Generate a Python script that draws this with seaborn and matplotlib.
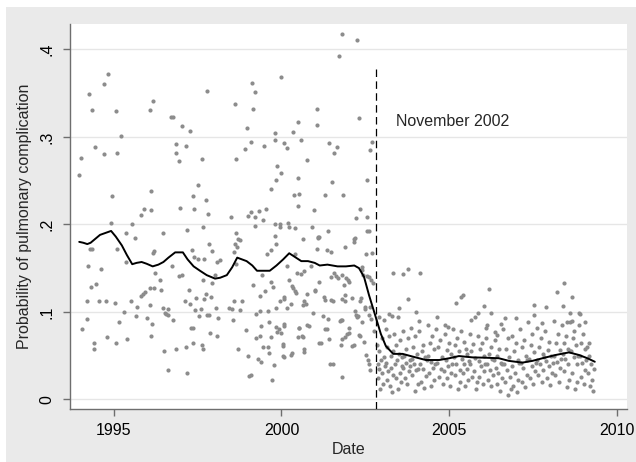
import seaborn as sns
import matplotlib.pyplot as plt
import numpy as np, pandas as pd
from matplotlib.patches import Rectangle

# monthly probability before the November 2002 change
pre_year = [1993.96, 1994.03, 1994.27, 1994.34, 1994.44, 1994.71, 1994.71, 1994.82, 1994.95, 1995.06,
            1995.10, 1995.22, 1994.92, 1995.36, 1995.54, 1995.63, 1995.81, 1995.90, 1996.09, 1996.17,
            1996.11, 1996.11, 1996.46, 1996.71, 1996.76, 1996.85, 1996.85, 1996.94, 1997.03, 1996.98,
            1997.16, 1997.27, 1997.19, 1997.36, 1997.39, 1997.50, 1997.64, 1997.66, 1997.75, 1997.79,
            1997.81, 1998.50, 1998.60, 1998.64, 1998.64, 1998.70, 1998.91, 1998.97, 1998.99, 1999.08,
            1999.08, 1999.13, 1999.15, 1999.20, 1999.21, 1999.22, 1999.34, 1999.45, 1999.49, 1999.54,
            1999.68, 1999.81, 1999.82, 1999.83, 1999.86, 1999.82, 1999.82, 2000.00, 2000.00, 1999.95,
            1999.97, 2000.07, 2000.16, 2000.19, 2000.21, 2000.34, 2000.41, 2000.38, 2000.50, 2000.49,
            2000.51, 2000.48, 2000.59, 2000.65, 2000.77, 2000.90, 2000.98, 2001.07, 2001.07, 2001.08,
            2001.81, 2002.26, 2001.70, 2002.30, 2001.41, 2001.66, 2001.56, 2002.69, 2002.64, 2001.50,
            2002.56, 2001.30, 2001.82, 2002.35, 2002.22, 2002.55, 2001.40, 2002.56, 2002.60, 2002.16,
            1994.06, 1994.20, 1994.20, 1994.23, 1994.29, 1994.36, 1994.32, 1994.42, 1994.42, 1994.48,
            1994.55, 1994.63, 1994.76, 1994.81, 1995.05, 1995.07, 1995.09, 1995.16, 1995.31, 1995.36,
            1995.39, 1995.52, 1995.66, 1995.70, 1995.82, 1995.88, 1995.94, 1995.99, 1996.08, 1996.20,
            1996.07, 1996.12, 1996.14, 1996.17, 1996.21, 1996.24, 1996.38, 1996.41, 1996.47, 1996.52,
            1996.56, 1996.50, 1996.63, 1996.61, 1996.61, 1996.73, 1996.76, 1996.86, 1996.94, 1997.04,
            1997.13, 1997.15, 1997.18, 1997.23, 1997.28, 1997.30, 1997.35, 1997.37, 1997.43, 1997.46,
            1997.50, 1997.54, 1997.60, 1997.64, 1997.67, 1997.67, 1997.70, 1997.74, 1997.77, 1997.83,
            1997.84, 1997.86, 1997.90, 1997.93, 1998.02, 1998.04, 1998.07, 1998.09, 1998.10, 1998.17,
            1998.44, 1998.53, 1998.55, 1998.57, 1998.60, 1998.65, 1998.67, 1998.69, 1998.75, 1998.76,
            1998.82, 1998.94, 1998.99, 1999.02, 1999.10, 1999.16, 1999.24, 1999.25, 1999.35, 1999.29,
            1999.39, 1999.35, 1999.36, 1999.39, 1999.42, 1999.46, 1999.50, 1999.60, 1999.59, 1999.62,
            1999.63, 1999.68, 1999.69, 1999.76, 1999.79, 1999.85, 1999.85, 1999.92, 1999.88, 1999.71,
            1999.95, 2000.00, 2000.04, 2000.07, 2000.07, 2000.06, 2000.15, 2000.17, 2000.21, 2000.27,
            2000.31, 2000.39, 2000.41, 2000.49, 2000.64, 2000.52, 2000.65, 2000.68, 2000.66, 2000.66,
            2000.68, 2000.77, 2000.81, 2000.95, 2001.01, 2001.10, 2001.13, 2001.28, 2001.47, 2001.55,
            2001.23, 2001.39, 2001.36, 2001.42, 2001.17, 2001.45, 2001.55, 2001.62, 2001.68, 2001.57,
            2001.80, 2001.73, 2001.80, 2001.90, 2001.90, 2001.98, 2002.02, 2001.95, 2002.10, 2002.15,
            2002.19, 2002.10, 2002.21, 2002.27, 2002.33, 2002.37, 2002.39, 2002.41, 2002.51, 2002.49,
            2002.57, 2002.63, 2002.56, 2002.62, 2002.66, 2002.62, 2002.72, 2002.75, 2001.88, 2001.35,
            2001.49, 2002.69, 2001.13, 2001.05, 2000.47, 2000.58, 2000.87, 2001.48, 2001.81, 2001.93,
            2002.44, 2001.87, 2000.33, 2000.43, 2001.00, 2001.30, 2000.08, 2000.27, 2000.72, 2001.79,
            2002.33, 2002.48, 2002.63, 2002.18, 2002.66, 2001.76, 2001.81, 2002.26, 2002.41, 2000.08,
            2000.53, 2000.76, 2001.30, 2002.00, 2000.62, 2001.90, 2002.00, 2002.32, 2000.05, 2001.13,
            2001.77, 2002.16, 2002.47, 2000.05, 2000.31, 2002.53, 2002.60, 1997.92, 1997.34, 1997.39,
            1997.70, 1998.57, 1999.57, 1999.68, 1999.83]
pre_prob = [0.256, 0.276, 0.349, 0.331, 0.288, 0.360, 0.280, 0.372, 0.232, 0.330,
            0.281, 0.301, 0.201, 0.190, 0.200, 0.184, 0.211, 0.218, 0.331, 0.341,
            0.238, 0.216, 0.190, 0.323, 0.323, 0.292, 0.281, 0.272, 0.312, 0.219,
            0.289, 0.307, 0.193, 0.232, 0.217, 0.245, 0.275, 0.197, 0.228, 0.352,
            0.212, 0.208, 0.338, 0.275, 0.190, 0.183, 0.286, 0.310, 0.209, 0.214,
            0.294, 0.361, 0.332, 0.351, 0.208, 0.198, 0.215, 0.205, 0.289, 0.217,
            0.240, 0.304, 0.297, 0.251, 0.267, 0.200, 0.187, 0.368, 0.259, 0.200,
            0.197, 0.293, 0.287, 0.202, 0.197, 0.305, 0.196, 0.233, 0.317, 0.253,
            0.235, 0.221, 0.296, 0.183, 0.274, 0.197, 0.216, 0.332, 0.313, 0.184,
            0.418, 0.411, 0.392, 0.322, 0.293, 0.288, 0.281, 0.294, 0.285, 0.248,
            0.251, 0.233, 0.233, 0.217, 0.207, 0.208, 0.192, 0.192, 0.192, 0.183,
            0.080, 0.092, 0.113, 0.153, 0.172, 0.172, 0.128, 0.064, 0.058, 0.132,
            0.112, 0.149, 0.113, 0.071, 0.110, 0.065, 0.172, 0.089, 0.100, 0.157,
            0.069, 0.112, 0.095, 0.106, 0.118, 0.121, 0.123, 0.093, 0.127, 0.127,
            0.108, 0.072, 0.086, 0.167, 0.170, 0.145, 0.137, 0.125, 0.104, 0.099,
            0.098, 0.055, 0.096, 0.034, 0.103, 0.153, 0.091, 0.058, 0.141, 0.142,
            0.112, 0.060, 0.030, 0.125, 0.109, 0.082, 0.082, 0.064, 0.102, 0.116,
            0.161, 0.095, 0.103, 0.062, 0.058, 0.136, 0.115, 0.120, 0.096, 0.096,
            0.178, 0.076, 0.117, 0.133, 0.142, 0.104, 0.157, 0.073, 0.093, 0.159,
            0.105, 0.103, 0.091, 0.112, 0.178, 0.155, 0.174, 0.058, 0.102, 0.182,
            0.113, 0.079, 0.050, 0.027, 0.028, 0.131, 0.070, 0.098, 0.101, 0.046,
            0.084, 0.072, 0.118, 0.043, 0.142, 0.060, 0.124, 0.060, 0.101, 0.088,
            0.053, 0.071, 0.134, 0.128, 0.039, 0.104, 0.083, 0.081, 0.077, 0.022,
            0.112, 0.076, 0.061, 0.049, 0.086, 0.115, 0.104, 0.152, 0.136, 0.051,
            0.130, 0.124, 0.166, 0.071, 0.071, 0.082, 0.108, 0.112, 0.058, 0.054,
            0.147, 0.120, 0.084, 0.099, 0.125, 0.185, 0.134, 0.117, 0.114, 0.113,
            0.095, 0.092, 0.080, 0.069, 0.064, 0.040, 0.040, 0.141, 0.139, 0.145,
            0.026, 0.090, 0.069, 0.119, 0.113, 0.136, 0.134, 0.075, 0.061, 0.180,
            0.184, 0.116, 0.097, 0.095, 0.073, 0.116, 0.148, 0.151, 0.166, 0.106,
            0.045, 0.034, 0.141, 0.140, 0.136, 0.097, 0.133, 0.078, 0.174, 0.171,
            0.168, 0.167, 0.186, 0.172, 0.145, 0.143, 0.153, 0.140, 0.142, 0.139,
            0.142, 0.131, 0.127, 0.122, 0.124, 0.114, 0.117, 0.109, 0.109, 0.115,
            0.113, 0.103, 0.106, 0.101, 0.092, 0.091, 0.091, 0.094, 0.089, 0.084,
            0.082, 0.085, 0.080, 0.082, 0.073, 0.071, 0.076, 0.074, 0.063, 0.064,
            0.062, 0.062, 0.066, 0.050, 0.053, 0.051, 0.040, 0.169, 0.171, 0.163,
            0.161, 0.168, 0.166, 0.171, 0.178]

# after the change
post_year = [2002.86, 2002.87, 2002.88, 2002.90, 2002.92, 2002.94, 2002.96, 2002.99, 2003.01, 2003.03,
             2003.06, 2003.08, 2003.11, 2003.12, 2003.14, 2003.16, 2003.18, 2003.21, 2003.23, 2003.25,
             2003.27, 2003.29, 2003.31, 2003.33, 2003.36, 2003.38, 2003.40, 2003.42, 2003.45, 2003.47,
             2003.49, 2003.52, 2003.54, 2003.56, 2003.58, 2003.59, 2003.61, 2003.63, 2003.66, 2003.68,
             2003.70, 2003.72, 2003.75, 2003.77, 2003.79, 2003.82, 2003.84, 2003.86, 2003.88, 2003.90,
             2003.93, 2003.95, 2003.97, 2003.99, 2004.02, 2004.04, 2004.06, 2004.08, 2004.11, 2004.13,
             2004.15, 2004.18, 2004.21, 2004.23, 2004.26, 2004.28, 2004.31, 2004.33, 2004.36, 2004.38,
             2004.40, 2004.43, 2004.45, 2004.47, 2004.50, 2004.52, 2004.54, 2004.56, 2004.58, 2004.62,
             2004.64, 2004.67, 2004.70, 2004.73, 2004.76, 2004.79, 2004.81, 2004.83, 2004.87, 2004.89,
             2004.92, 2004.94, 2004.97, 2004.99, 2005.02, 2005.04, 2005.06, 2005.08, 2005.11, 2005.13,
             2005.16, 2005.18, 2005.21, 2005.23, 2005.26, 2005.28, 2005.31, 2005.33, 2005.36, 2005.38,
             2005.40, 2005.43, 2005.45, 2005.47, 2005.50, 2005.52, 2005.54, 2005.56, 2005.58, 2005.61,
             2005.63, 2005.66, 2005.69, 2005.71, 2005.74, 2005.77, 2005.80, 2005.83, 2005.86, 2005.88,
             2005.90, 2005.93, 2005.95, 2005.97, 2006.00, 2006.03, 2006.05, 2006.08, 2006.11, 2006.13,
             2006.16, 2006.18, 2006.21, 2006.24, 2006.26, 2006.29, 2006.31, 2006.33, 2006.36, 2006.38,
             2006.41, 2006.43, 2006.46, 2006.49, 2006.51, 2006.54, 2006.56, 2006.58, 2006.61, 2006.63,
             2006.66, 2006.68, 2006.71, 2006.74, 2006.76, 2006.79, 2006.81, 2006.83, 2006.86, 2006.88,
             2006.91, 2006.93, 2006.96, 2006.98, 2007.01, 2007.04, 2007.06, 2007.08, 2007.11, 2007.13,
             2007.16, 2007.18, 2007.21, 2007.24, 2007.26, 2007.29, 2007.31, 2007.33, 2007.36, 2007.38,
             2007.41, 2007.43, 2007.46, 2007.48, 2007.51, 2007.53, 2007.56, 2007.58, 2007.61, 2007.63,
             2007.66, 2007.68, 2007.71, 2007.73, 2007.76, 2007.79, 2007.81, 2007.83, 2007.86, 2007.88,
             2007.91, 2007.93, 2007.96, 2007.98, 2008.01, 2008.04, 2008.06, 2008.08, 2008.11, 2008.13,
             2008.16, 2008.18, 2008.21, 2008.24, 2008.26, 2008.29, 2008.31, 2008.33, 2008.36, 2008.38,
             2008.41, 2008.43, 2008.46, 2008.48, 2008.51, 2008.53, 2008.55, 2008.57, 2008.59, 2008.61,
             2008.63, 2008.66, 2008.68, 2008.71, 2008.73, 2008.76, 2008.78, 2008.80, 2008.82, 2008.84,
             2008.87, 2008.89, 2008.92, 2008.94, 2008.97, 2008.99, 2009.02, 2009.04, 2009.06, 2009.08,
             2009.12, 2009.15, 2009.18, 2009.21, 2009.24, 2009.27, 2009.30, 2009.33,
             2003.33, 2003.63, 2003.77, 2004.12, 2003.78, 2003.50, 2003.20, 2003.30, 2002.90, 2003.07,
             2003.47, 2004.00, 2004.10, 2004.65, 2004.88, 2004.95, 2005.20, 2005.35, 2005.40, 2005.65,
             2005.78, 2005.87, 2006.03, 2006.18, 2006.24, 2006.12, 2006.10, 2006.55, 2006.65, 2006.36,
             2006.41, 2007.00, 2007.52, 2007.52, 2007.88, 2008.20, 2008.43, 2008.67, 2008.39, 2008.60,
             2008.86, 2008.90, 2008.50, 2008.67, 2009.06, 2009.18, 2007.78]
post_prob = [0.062, 0.040, 0.025, 0.055, 0.035, 0.012, 0.045, 0.030, 0.070, 0.018,
             0.048, 0.038, 0.080, 0.042, 0.022, 0.060, 0.033, 0.073, 0.015, 0.050,
             0.036, 0.008, 0.055, 0.028, 0.075, 0.040, 0.025, 0.062, 0.045, 0.012,
             0.052, 0.030, 0.068, 0.020, 0.038, 0.048, 0.078, 0.036, 0.050, 0.024,
             0.058, 0.042, 0.018, 0.070, 0.032, 0.045, 0.038, 0.082, 0.046, 0.028,
             0.060, 0.040, 0.010, 0.072, 0.034, 0.052, 0.018, 0.035, 0.078, 0.040,
             0.020, 0.055, 0.035, 0.062, 0.013, 0.048, 0.027, 0.045, 0.085, 0.050,
             0.030, 0.065, 0.043, 0.015, 0.072, 0.036, 0.058, 0.022, 0.040, 0.080,
             0.042, 0.060, 0.026, 0.068, 0.035, 0.048, 0.018, 0.032, 0.075, 0.045,
             0.024, 0.057, 0.038, 0.065, 0.015, 0.052, 0.030, 0.040, 0.080, 0.048,
             0.028, 0.062, 0.040, 0.070, 0.012, 0.055, 0.034, 0.020, 0.078, 0.046,
             0.030, 0.066, 0.040, 0.015, 0.058, 0.035, 0.052, 0.022, 0.044, 0.075,
             0.040, 0.055, 0.026, 0.063, 0.033, 0.047, 0.012, 0.020, 0.072, 0.044,
             0.026, 0.058, 0.038, 0.065, 0.018, 0.050, 0.032, 0.040, 0.070, 0.040,
             0.022, 0.052, 0.034, 0.060, 0.015, 0.046, 0.028, 0.045, 0.068, 0.036,
             0.018, 0.050, 0.030, 0.058, 0.010, 0.042, 0.024, 0.040, 0.080, 0.040,
             0.020, 0.058, 0.034, 0.070, 0.005, 0.048, 0.026, 0.012, 0.072, 0.038,
             0.015, 0.055, 0.030, 0.064, 0.008, 0.045, 0.022, 0.042, 0.080, 0.042,
             0.020, 0.060, 0.036, 0.068, 0.014, 0.050, 0.028, 0.045, 0.088, 0.046,
             0.025, 0.062, 0.038, 0.075, 0.018, 0.054, 0.032, 0.042, 0.082, 0.045,
             0.028, 0.060, 0.040, 0.070, 0.020, 0.052, 0.034, 0.048, 0.078, 0.044,
             0.024, 0.056, 0.038, 0.066, 0.016, 0.050, 0.030, 0.042, 0.090, 0.050,
             0.028, 0.064, 0.043, 0.075, 0.020, 0.056, 0.036, 0.046, 0.085, 0.052,
             0.032, 0.065, 0.046, 0.072, 0.014, 0.058, 0.040, 0.022, 0.055, 0.088,
             0.055, 0.030, 0.070, 0.048, 0.078, 0.012, 0.062, 0.040, 0.020, 0.050,
             0.085, 0.050, 0.026, 0.065, 0.042, 0.075, 0.018, 0.058, 0.034, 0.045,
             0.060, 0.030, 0.050, 0.015, 0.040, 0.022, 0.010, 0.035,
             0.144, 0.143, 0.149, 0.145, 0.115, 0.104, 0.098, 0.095, 0.094, 0.091,
             0.094, 0.100, 0.090, 0.094, 0.085, 0.083, 0.110, 0.117, 0.119, 0.091,
             0.094, 0.099, 0.107, 0.126, 0.099, 0.085, 0.082, 0.086, 0.093, 0.077,
             0.074, 0.093, 0.108, 0.097, 0.106, 0.123, 0.133, 0.117, 0.107, 0.099,
             0.099, 0.098, 0.088, 0.090, 0.089, 0.064, 0.087]

# smoothed curve
smooth_year = [1993.97, 1994.09, 1994.21, 1994.31, 1994.59, 1994.92, 1995.06, 1995.24, 1995.39, 1995.55,
               1995.68, 1995.83, 1995.98, 1996.16, 1996.33, 1996.48, 1996.63, 1996.83, 1997.06, 1997.20,
               1997.38, 1997.57, 1997.77, 1998.02, 1998.17, 1998.37, 1998.53, 1998.68, 1998.96, 1999.13,
               1999.27, 1999.45, 1999.65, 1999.85, 2000.05, 2000.23, 2000.39, 2000.59, 2000.79, 2000.99,
               2001.14, 2001.37, 2001.67, 2001.92, 2002.17, 2002.31, 2002.46, 2002.61, 2002.81, 2002.96,
               2003.11, 2003.33, 2003.61, 2003.90, 2004.30, 2004.70, 2005.00, 2005.29, 2005.69, 2006.09,
               2006.48, 2006.78, 2007.18, 2007.48, 2007.78, 2008.17, 2008.57, 2008.87, 2009.12, 2009.34]
smooth_prob = [0.180, 0.179, 0.1775, 0.179, 0.188, 0.1925, 0.186, 0.176, 0.165, 0.1545,
               0.156, 0.157, 0.155, 0.152, 0.154, 0.157, 0.162, 0.168, 0.168, 0.160,
               0.152, 0.147, 0.142, 0.138, 0.139, 0.142, 0.151, 0.162, 0.158, 0.153,
               0.147, 0.147, 0.147, 0.153, 0.160, 0.167, 0.163, 0.158, 0.158, 0.156,
               0.153, 0.154, 0.152, 0.152, 0.153, 0.150, 0.140, 0.119, 0.094, 0.075,
               0.061, 0.052, 0.052, 0.049, 0.045, 0.045, 0.047, 0.0495, 0.048, 0.0476,
               0.047, 0.044, 0.042, 0.044, 0.047, 0.0507, 0.0537, 0.0507, 0.047, 0.043]

cut_date = 2002.83
cut_top = 0.379
y_ticks = [0, 0.1, 0.2, 0.3, 0.4]
y_ticklabels = ["0", ".1", ".2", ".3", ".4"]
x_ticks = [1995, 2000, 2005, 2010]

pts = pd.DataFrame({"year": pre_year + post_year, "prob": pre_prob + post_prob})
smooth = pd.DataFrame({"year": smooth_year, "prob": smooth_prob})

sns.set_style("white")
plt.rcParams['font.family'] = ['Liberation Sans', 'DejaVu Sans']

W, H = 636, 462
fig = plt.figure(figsize=(W / 100, H / 100), dpi=100)
fig.patch.set_facecolor('white')
fig.patches.append(Rectangle((6 / W, 0), 1, 1 - 7 / H, transform=fig.transFigure,
                             facecolor='#eaeaea', edgecolor='none', zorder=-10))
ax = fig.add_axes([69.5 / W, 1 - 409 / H, (627 - 69.5) / W, (409 - 24) / H])
ax.set_facecolor('white')

ylo, yhi = -0.011, 0.429
ax.set_ylim(ylo, yhi)
ax.set_xlim(1993.68, 2010.3)

ax.grid(axis='y', color='#e6e6e6', linewidth=1)
ax.grid(axis='x', visible=False)
ax.set_axisbelow(True)

sns.scatterplot(data=pts, x="year", y="prob", ax=ax, color='#8c8c8c', s=9,
                linewidth=0, zorder=2)
sns.lineplot(data=smooth, x="year", y="prob", ax=ax, color='black', linewidth=1.4,
             estimator=None, sort=False, zorder=3)

ax.axvline(cut_date, ymin=0, ymax=(cut_top - ylo) / (yhi - ylo), color='black',
           linewidth=0.9, dashes=(6, 3.5), zorder=4)
ax.text(2003.41, 0.318, "November 2002", fontsize=11.5, va='center', ha='left')

ax.set_yticks(y_ticks)
ax.set_yticklabels(y_ticklabels)
ax.set_xticks(x_ticks)
for lab in ax.get_yticklabels():
    lab.set_rotation(90)
    lab.set_va('center')
ax.tick_params(axis='both', direction='out', length=5, width=1, color='#6e6e6e',
               labelsize=11.5, labelcolor='black')
ax.tick_params(axis='y', pad=6, left=True)
ax.tick_params(axis='x', pad=5, bottom=True)

for side in ['top', 'right']:
    ax.spines[side].set_visible(False)
for side in ['left', 'bottom']:
    ax.spines[side].set_color('#6e6e6e')
    ax.spines[side].set_linewidth(1)

ax.set_xlabel("Date", fontsize=11.5, labelpad=3)
ax.set_ylabel("Probability of pulmonary complication", fontsize=11.5, labelpad=5)

fig.savefig("out.png", dpi=100, facecolor=fig.get_facecolor())
